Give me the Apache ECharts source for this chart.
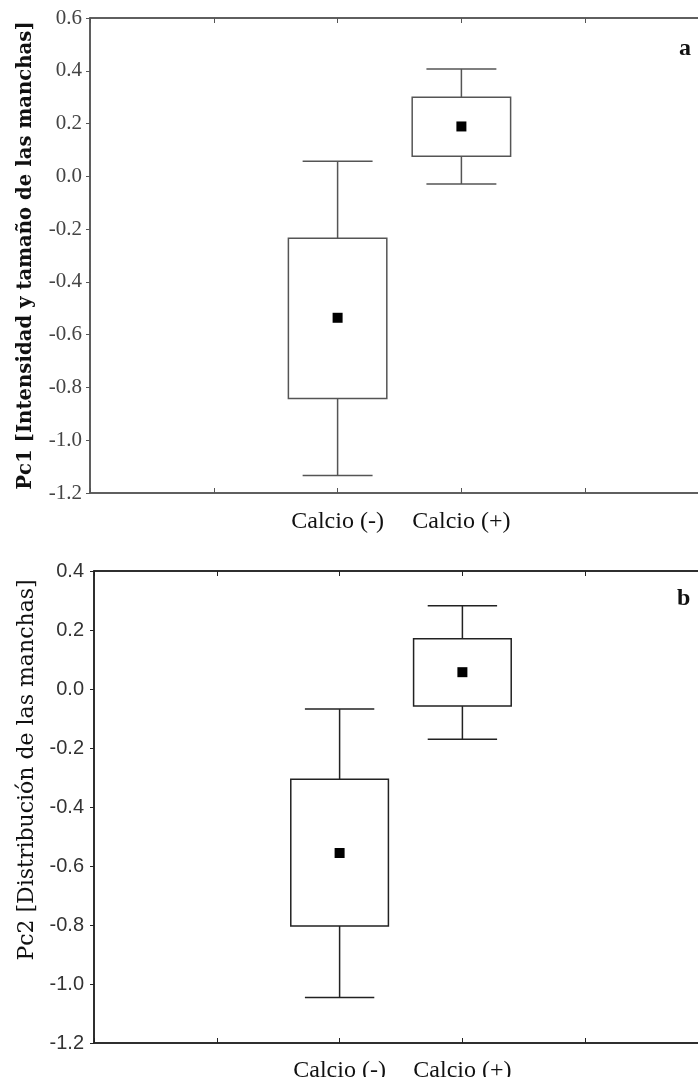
<!DOCTYPE html>
<html><head><meta charset="utf-8">
<script src="https://cdn.jsdelivr.net/npm/echarts@6/dist/echarts.min.js"></script>
<style>html,body{margin:0;padding:0;background:#fff}#c{width:698px;height:1077px}</style>
</head><body><div id="c"></div>
<script>
// ---- data ----
const categories = ['Calcio (-)', 'Calcio (+)'];
const categoryPositions = [2, 3];
const xMin = 0, xMax = 5, xStep = 1;

// Panel a: Pc1
const pc1WhiskerLow  = [-1.134, -0.029];
const pc1BoxLow      = [-0.842,  0.076];
const pc1Mean        = [-0.536,  0.189];
const pc1BoxHigh     = [-0.235,  0.300];
const pc1WhiskerHigh = [ 0.057,  0.407];
const yMinA = -1.2, yMaxA = 0.6, yStepA = 0.2;

// Panel b: Pc2
const pc2WhiskerLow  = [-1.046, -0.170];
const pc2BoxLow      = [-0.803, -0.058];
const pc2Mean        = [-0.556,  0.057];
const pc2BoxHigh     = [-0.306,  0.170];
const pc2WhiskerHigh = [-0.068,  0.282];
const yMinB = -1.2, yMaxB = 0.4, yStepB = 0.2;

const titleA = 'Pc1 [Intensidad y tamaño de las manchas]';
const titleB = 'Pc2 [Distribución de las manchas]';
const panelLabels = ['a', 'b'];

// ---- build ----
function rows(wl, bl, mn, bh, wh) {
  return categories.map((c, i) => [categoryPositions[i], wl[i], bl[i], mn[i], bh[i], wh[i]]);
}
function renderBox(lineColor, lineWidth) {
  return function (params, api) {
    const x = api.value(0);
    const wl = api.coord([x, api.value(1)]);
    const bl = api.coord([x, api.value(2)]);
    const mn = api.coord([x, api.value(3)]);
    const bh = api.coord([x, api.value(4)]);
    const wh = api.coord([x, api.value(5)]);
    const unit = api.size([1, 0])[0];
    const bw = unit * 0.795, cw = unit * 0.565, ms = 10;
    const cx = wl[0];
    const st = { stroke: lineColor, lineWidth: lineWidth, fill: null };
    return {
      type: 'group', children: [
        { type: 'line', shape: { x1: cx, y1: wh[1], x2: cx, y2: bh[1] }, style: st },
        { type: 'line', shape: { x1: cx, y1: bl[1], x2: cx, y2: wl[1] }, style: st },
        { type: 'line', shape: { x1: cx - cw / 2, y1: wh[1], x2: cx + cw / 2, y2: wh[1] }, style: st },
        { type: 'line', shape: { x1: cx - cw / 2, y1: wl[1], x2: cx + cw / 2, y2: wl[1] }, style: st },
        { type: 'rect', shape: { x: cx - bw / 2, y: bh[1], width: bw, height: bl[1] - bh[1] }, style: { stroke: lineColor, lineWidth: lineWidth, fill: '#fff' } },
        { type: 'rect', shape: { x: cx - ms / 2, y: mn[1] - ms / 2, width: ms, height: ms }, style: { fill: '#000' } }
      ]
    };
  };
}
function catLabel(v) {
  const i = categoryPositions.indexOf(v);
  return i >= 0 ? categories[i] : '';
}

const colA = '#555', colB = '#222';
const serif = '"Liberation Serif", "Times New Roman", serif';
const wideSerif = '"DejaVu Serif", serif';

function xAxisDef(grid, pos, col, withLabels, margin) {
  return {
    gridIndex: grid, type: 'value', min: xMin, max: xMax, interval: xStep, position: pos,
    axisLine: { onZero: false, lineStyle: { color: col, width: 1.5 } },
    axisTick: { inside: true, length: 5, lineStyle: { color: col } },
    splitLine: { show: false },
    axisLabel: withLabels
      ? { formatter: catLabel, margin: margin, fontFamily: serif, fontSize: 24, color: '#111' }
      : { show: false }
  };
}

const chart = echarts.init(document.getElementById('c'), null, { renderer: 'canvas' });
chart.setOption({
  animation: false,
  backgroundColor: '#fff',
  title: [
    { text: panelLabels[0], left: 674, top: 32, textStyle: { fontFamily: serif, fontWeight: 'bold', fontSize: 24, color: '#111' } },
    { text: panelLabels[1], left: 672, top: 582, textStyle: { fontFamily: serif, fontWeight: 'bold', fontSize: 24, color: '#111' } }
  ],
  grid: [
    { left: 90, top: 18, width: 619, height: 475, outerBoundsMode: 'none', containLabel: false,
      show: true, borderColor: colA, borderWidth: 1.5, backgroundColor: 'transparent' },
    { left: 94, top: 571, width: 614, height: 472, outerBoundsMode: 'none', containLabel: false,
      show: true, borderColor: colB, borderWidth: 1.5, backgroundColor: 'transparent' }
  ],
  xAxis: [
    xAxisDef(0, 'bottom', colA, true, 17),
    xAxisDef(0, 'top', colA, false, 0),
    xAxisDef(1, 'bottom', colB, true, 16),
    xAxisDef(1, 'top', colB, false, 0)
  ],
  yAxis: [
    { gridIndex: 0, type: 'value', min: yMinA, max: yMaxA, interval: yStepA,
      name: titleA, nameLocation: 'middle', nameGap: 54,
      nameTextStyle: { fontFamily: wideSerif, fontWeight: 'bold', fontSize: 19.7, color: '#111' },
      axisLine: { lineStyle: { color: colA, width: 1.5 } },
      axisTick: { show: true, length: 4, lineStyle: { color: colA } },
      splitLine: { show: false },
      axisLabel: { formatter: v => v.toFixed(1), margin: 8, fontFamily: serif, fontSize: 21, color: '#444' } },
    { gridIndex: 1, type: 'value', min: yMinB, max: yMaxB, interval: yStepB,
      name: titleB, nameLocation: 'middle', nameGap: 52,
      nameTextStyle: { fontFamily: wideSerif, fontSize: 22, color: '#111', padding: [0, 0, 0, 74] },
      axisLine: { lineStyle: { color: colB, width: 1.5 } },
      axisTick: { show: true, length: 4, lineStyle: { color: colB } },
      splitLine: { show: false },
      axisLabel: { formatter: v => v.toFixed(1), margin: 10, fontFamily: '"Liberation Sans", Arial, sans-serif', fontSize: 20, color: '#333' } }
  ],
  series: [
    { type: 'custom', xAxisIndex: 0, yAxisIndex: 0, renderItem: renderBox(colA, 1.5),
      encode: { x: 0, y: [1, 2, 3, 4, 5] },
      data: rows(pc1WhiskerLow, pc1BoxLow, pc1Mean, pc1BoxHigh, pc1WhiskerHigh) },
    { type: 'custom', xAxisIndex: 2, yAxisIndex: 1, renderItem: renderBox(colB, 1.5),
      encode: { x: 0, y: [1, 2, 3, 4, 5] },
      data: rows(pc2WhiskerLow, pc2BoxLow, pc2Mean, pc2BoxHigh, pc2WhiskerHigh) }
  ]
});
</script></body></html>
